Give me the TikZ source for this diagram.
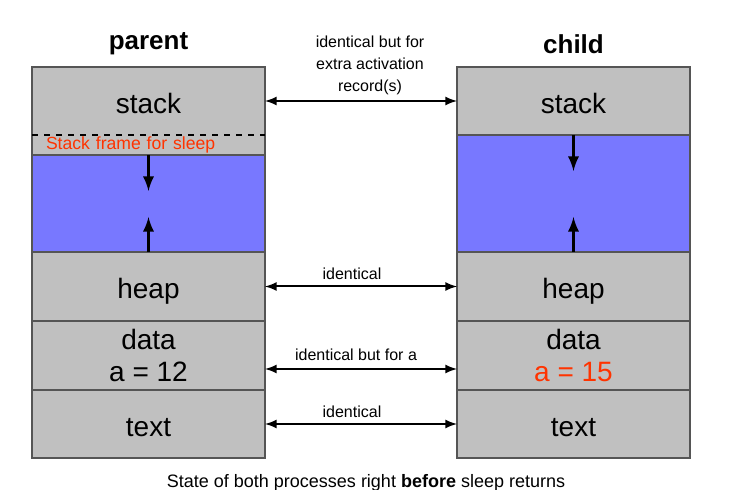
\documentclass[tikz,border=0pt]{standalone}
\usepackage{fontspec}
\setmainfont{Liberation Sans}
\usetikzlibrary{positioning,arrows}
\definecolor{seggray}{HTML}{C0C0C0}
\definecolor{segline}{HTML}{555555}
\definecolor{freeblue}{HTML}{7878FF}
\definecolor{diffred}{HTML}{FF3300}

\begin{document}
\begin{tikzpicture}[x=0.5pt,y=-0.5pt,
    seg/.style={rectangle,fill=seggray,draw=segline,line width=0.6pt,
      minimum width=116.5pt,inner sep=0pt,outer sep=0pt,align=center,
      font=\fontsize{14}{16}\selectfont},
    one_line/.style={seg,text height=13pt,text depth=0.5pt},
    gap/.style={seg,fill=freeblue},
    grow_arrow/.style={-latex,line width=1.5pt},
    same_arrow/.style={latex-latex,line width=1pt},
    small_label/.style={font=\fontsize{8}{11}\selectfont,align=center}]

  \useasboundingbox (0,0) rectangle (732,490);

  % parent
  \path (148.5,44) node(parent) [font=\fontsize{13}{15}\selectfont\bfseries] {parent};
  \path (148.5,101) node(stackL) [one_line,minimum height=34pt,draw=none] {stack};
  \node(frameL) [seg,minimum height=10pt,draw=none,below=0pt of stackL,
    font=\fontsize{8.8}{10}\selectfont,text=diffred,text width=102.5pt,
    inner xsep=7pt,align=left] {Stack frame for sleep};
  \draw[segline,line width=0.6pt] (stackL.north west) rectangle (frameL.south east);
  \draw[dashed,line width=0.8pt] (stackL.south west) -- (stackL.south east);
  \node(blueL) [gap,minimum height=48.5pt,below=0pt of frameL] {};
  \node(heapL) [one_line,minimum height=34.5pt,below=0pt of blueL] {heap};
  \node(dataL) [seg,minimum height=34.5pt,below=0pt of heapL] {data\\a = 12};
  \node(textL) [one_line,minimum height=34pt,below=0pt of dataL] {text};

  % child
  \path (573.5,44) node(child) [font=\fontsize{13}{15}\selectfont\bfseries] {child};
  \path (573.5,101) node(stackR) [one_line,minimum height=34pt] {stack};
  \node(blueR) [gap,minimum height=58.5pt,below=0pt of stackR] {};
  \node(heapR) [one_line,minimum height=34.5pt,below=0pt of blueR] {heap};
  \node(dataR) [seg,minimum height=34.5pt,below=0pt of heapR] {data\\\textcolor{diffred}{a = 15}};
  \node(textR) [one_line,minimum height=34pt,below=0pt of dataR] {text};

  % stack and heap growing
  \coordinate (topL) at ([yshift=-18pt]blueL.north);
  \coordinate (botL) at ([yshift=17.5pt]blueL.south);
  \coordinate (topR) at ([yshift=-18pt]blueR.north);
  \coordinate (botR) at ([yshift=17.5pt]blueR.south);
  \draw[grow_arrow] (blueL.north) -- (topL);
  \draw[grow_arrow] (blueL.south) -- (botL);
  \draw[grow_arrow] (blueR.north) -- (topR);
  \draw[grow_arrow] (blueR.south) -- (botR);

  % what differs
  \path (370,65) node(stacknote) [small_label] {identical but for\\extra activation\\record(s)};
  \draw[same_arrow] (stackL.east) -- (stackR.west);
  \draw[same_arrow] (heapL.east) -- (heapR.west);
  \path (352,274) node(heapnote) [small_label] {identical};
  \draw[same_arrow] ([yshift=-6.75pt]dataL.east) -- ([yshift=-6.75pt]dataR.west);
  \path (356,355) node(datanote) [small_label] {identical but for a};
  \draw[same_arrow] (textL.east) -- (textR.west);
  \path (352,412) node(textnote) [small_label] {identical};

  \path (366,483) node(caption) [font=\fontsize{9}{10}\selectfont]
    {State of both processes right \textbf{before} sleep returns};
\end{tikzpicture}
\end{document}
